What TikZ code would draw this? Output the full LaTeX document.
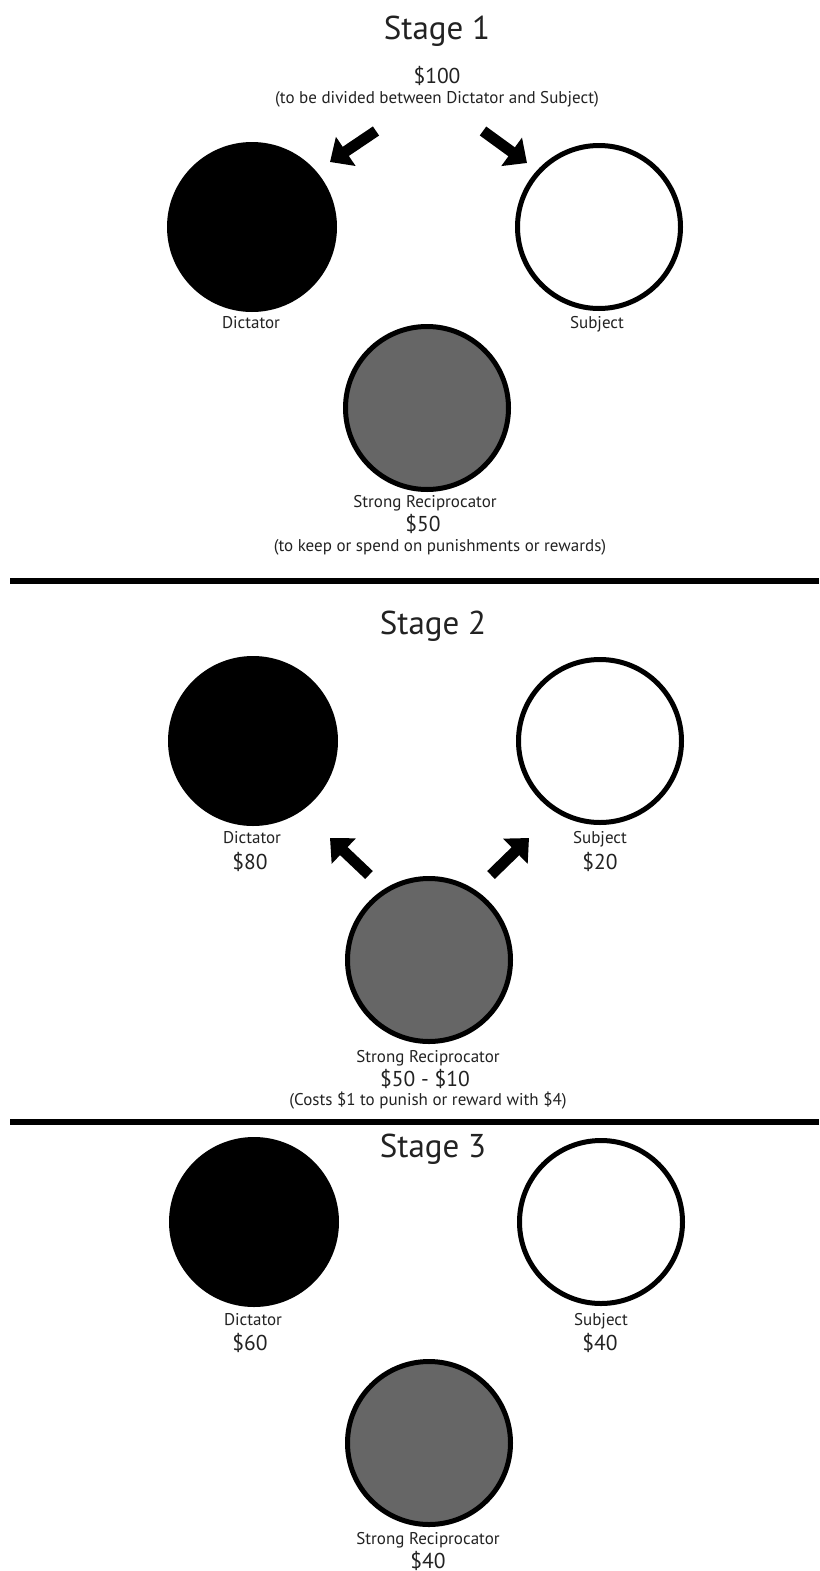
\documentclass[tikz,border=0pt]{standalone}
\usepackage{fontspec}
\setmainfont{PT Sans}
\usetikzlibrary{arrows.meta}
\definecolor{recgray}{HTML}{666666}
\definecolor{txt}{HTML}{222222}
\tikzset{
  dictc/.style={circle,fill=black,draw=black,line width=5pt,minimum size=165pt,inner sep=0pt},
  subjc/.style={circle,fill=white,draw=black,line width=5pt,minimum size=163pt,inner sep=0pt},
  recipc/.style={circle,fill=recgray,draw=black,line width=5pt,minimum size=163pt,inner sep=0pt},
  ttltxt/.style={anchor=base,inner sep=0pt,text=txt,font=\fontsize{33}{38}\selectfont},
  moneytxt/.style={anchor=base,inner sep=0pt,text=txt,font=\fontsize{21.5}{24}\selectfont},
  nametxt/.style={anchor=base,inner sep=0pt,text=txt,font=\fontsize{17}{20}\selectfont},
  notetxt/.style={anchor=base,inner sep=0pt,text=txt,font=\fontsize{17}{20}\selectfont},
  bigarrow/.style={line width=11pt,-{Triangle[length=19pt,width=34pt]}},
  divider/.style={line width=6pt,black}
}
\begin{document}
\begin{tikzpicture}[x=1pt,y=-1pt]
\useasboundingbox (0,0) rectangle (819,1571);
% ---------- Stage 1
\node[ttltxt] (t1) at (437,40) {Stage 1};
\node[moneytxt] (m100) at (437,83) {\$100};
\node[notetxt] (n1) at (437,103) {(to be divided between Dictator and Subject)};
\node[dictc] (d1) at (252,227) {};
\node[subjc] (s1) at (599,227) {};
\node[recipc] (r1) at (427,408) {};
\node[nametxt] (d1l) at (251,328) {Dictator};
\node[nametxt] (s1l) at (597,328) {Subject};
\node[nametxt] (r1l) at (425,507) {Strong Reciprocator};
\node[moneytxt] (r1m) at (423,531) {\$50};
\node[notetxt] (r1n) at (440,551) {(to keep or spend on punishments or rewards)};
\coordinate (a1s) at (376,131);
\coordinate (a1e) at (330,162);
\coordinate (a2s) at (483,131);
\coordinate (a2e) at (527,163);
\draw[bigarrow] (a1s) -- (a1e);
\draw[bigarrow] (a2s) -- (a2e);
\coordinate (l1a) at (10,581);
\coordinate (l1b) at (819,581);
\draw[divider] (l1a) -- (l1b);
% ---------- Stage 2
\node[ttltxt] (t2) at (433,634) {Stage 2};
\node[dictc] (d2) at (253,741) {};
\node[subjc] (s2) at (600,741) {};
\node[recipc] (r2) at (429,960) {};
\node[nametxt] (d2l) at (252,843) {Dictator};
\node[moneytxt] (d2m) at (250,869) {\$80};
\node[nametxt] (s2l) at (600,843) {Subject};
\node[moneytxt] (s2m) at (600,869) {\$20};
\node[nametxt] (r2l) at (428,1062) {Strong Reciprocator};
\node[moneytxt] (r2m) at (425,1086) {\$50 - \$10};
\node[notetxt] (r2n) at (428,1105) {(Costs \$1 to punish or reward with \$4)};
\coordinate (b1s) at (369,875);
\coordinate (b1e) at (330,838);
\coordinate (b2s) at (491,875);
\coordinate (b2e) at (529,838);
\draw[bigarrow] (b1s) -- (b1e);
\draw[bigarrow] (b2s) -- (b2e);
\coordinate (l2a) at (10,1122);
\coordinate (l2b) at (819,1122);
\draw[divider] (l2a) -- (l2b);
% ---------- Stage 3
\node[ttltxt] (t3) at (433,1157) {Stage 3};
\node[dictc] (d3) at (254,1222) {};
\node[subjc] (s3) at (601,1222) {};
\node[recipc] (r3) at (429,1443) {};
\node[nametxt] (d3l) at (253,1325) {Dictator};
\node[moneytxt] (d3m) at (250,1350) {\$60};
\node[nametxt] (s3l) at (601,1325) {Subject};
\node[moneytxt] (s3m) at (600,1350) {\$40};
\node[nametxt] (r3l) at (428,1544) {Strong Reciprocator};
\node[moneytxt] (r3m) at (428,1568) {\$40};
\end{tikzpicture}
\end{document}
